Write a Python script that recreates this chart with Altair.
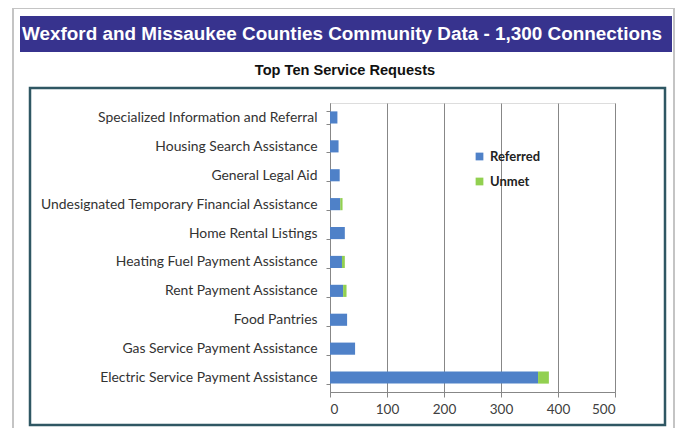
import altair as alt
import pandas as pd

categories = [
    "Specialized Information and Referral",
    "Housing Search Assistance",
    "General Legal Aid",
    "Undesignated Temporary Financial Assistance",
    "Home Rental Listings",
    "Heating Fuel Payment Assistance",
    "Rent Payment Assistance",
    "Food Pantries",
    "Gas Service Payment Assistance",
    "Electric Service Payment Assistance",
]
referred = [13, 15, 17, 18, 26, 21, 23, 30, 44, 365]
unmet = [0, 0, 0, 4, 0, 5, 6, 0, 0, 19]
series = ["Referred", "Unmet"]
x_ticks = [0, 100, 200, 300, 400, 500]

rows = []
for c, r, u in zip(categories, referred, unmet):
    rows.append({"cat": c, "series": "Referred", "value": r, "o": 0})
    rows.append({"cat": c, "series": "Unmet", "value": u, "o": 1})
df = pd.DataFrame(rows)

LABEL_FONT = "Lato"
one = alt.Data(values=[{}])

bars = alt.Chart(df).mark_bar().encode(
    y=alt.Y("cat:N", sort=categories, title=None,
            scale=alt.Scale(paddingInner=0.58, paddingOuter=0.29),
            axis=alt.Axis(labelFont=LABEL_FONT, labelFontSize=13.9, labelColor="#333333",
                          labelPadding=9, tickSize=4, tickColor="#878787",
                          domainColor="#878787", tickBand="extent", labelLimit=400)),
    x=alt.X("value:Q", stack="zero", title=None,
            scale=alt.Scale(domain=[0, 500], nice=False),
            axis=alt.Axis(values=x_ticks, labelFont=LABEL_FONT, labelFontSize=13.5,
                          labelColor="#404040", tickSize=5, tickColor="#878787",
                          domainColor="#878787", grid=True, gridColor="#878787",
                          labelPadding=5)),
    color=alt.Color("series:N", scale=alt.Scale(domain=series, range=["#4F81C8", "#92D050"]),
                    legend=alt.Legend(title=None, orient="none", legendX=143, legendY=47,
                                      symbolType="square", symbolSize=60, rowPadding=11,
                                      labelFont=LABEL_FONT, labelFontWeight="bold",
                                      labelFontSize=13, labelColor="#222222",
                                      symbolStrokeWidth=0)),
    order=alt.Order("o:Q"),
)

frame = alt.Chart(one).mark_rect(fill=None, stroke="#C4C4C4", strokeWidth=2).encode(
    x=alt.value(-317), x2=alt.value(344), y=alt.value(-95), y2=alt.value(340))
title_bar = alt.Chart(one).mark_rect(fill="#37338E").encode(
    x=alt.value(-310), x2=alt.value(342), y=alt.value(-87), y2=alt.value(-51))
title_text = alt.Chart(one).mark_text(
    text="Wexford and Missaukee Counties Community Data - 1,300 Connections",
    font="Liberation Sans", fontWeight="bold", fontSize=18.9, color="white",
    align="left", baseline="middle").encode(x=alt.value(-308), y=alt.value(-69))
subtitle = alt.Chart(one).mark_text(
    text="Top Ten Service Requests", font="Liberation Sans", fontWeight="bold",
    fontSize=14.6, color="#111111", align="center", baseline="middle").encode(
    x=alt.value(15), y=alt.value(-32))
box = alt.Chart(one).mark_rect(fill=None, stroke="#2F5763", strokeWidth=2.5).encode(
    x=alt.value(-300), x2=alt.value(335), y=alt.value(-15), y2=alt.value(322))

chart = alt.layer(frame, title_bar, title_text, subtitle, box, bars).properties(
    width=285, height=289,
    padding={"left": 322, "top": 95, "right": 60, "bottom": 36},
    autosize=alt.AutoSizeParams(type="none"),
).configure_view(stroke=None).configure(background="white")

chart.save("out.html", embed_options={"renderer": "svg", "actions": False})
